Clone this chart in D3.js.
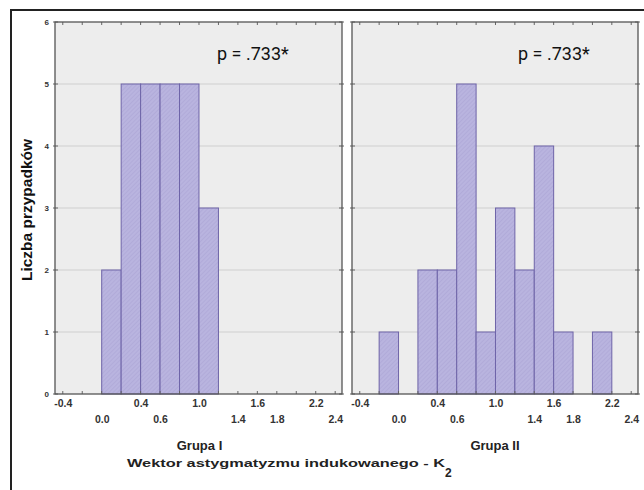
<!DOCTYPE html>
<html>
<head>
<meta charset="utf-8">
<script src="https://cdn.jsdelivr.net/npm/d3@7"></script>
<style>
  body { margin: 0; background: #fff; }
  svg { display: block; }
</style>
</head>
<body>
<script>
var width = 644, height = 490;

// histogram data, bins 0.2 wide (lower edges)
var binWidth = 0.2;
var binStartsI = [0.0, 0.2, 0.4, 0.6, 0.8, 1.0];
var countsI = [2, 5, 5, 5, 5, 3];
var binStartsII = [-0.2, 0.2, 0.4, 0.6, 0.8, 1.0, 1.2, 1.4, 1.6, 2.0];
var countsII = [1, 2, 2, 5, 1, 3, 2, 4, 1, 1];

var xTickLabels = [-0.4, 0.0, 0.4, 0.6, 1.0, 1.4, 1.6, 1.8, 2.2, 2.4];
var upperRow = [-0.4, 0.4, 1.0, 1.6, 2.2];
var minorTicks = [-0.4, -0.2, 0.0, 0.2, 0.4, 0.6, 0.8, 1.0, 1.2, 1.4, 1.6, 1.8, 2.0, 2.2, 2.4];
var yTicks = [0, 1, 2, 3, 4, 5, 6];
var groupNames = ["Grupa I", "Grupa II"];
var pLabels = ["p = .733*", "p = .733*"];

var panels = [
  {name: groupNames[0], p: pLabels[0], starts: binStartsI, counts: countsI, x0: 55, x1: 342},
  {name: groupNames[1], p: pLabels[1], starts: binStartsII, counts: countsII, x0: 352, x1: 638}
];

var svg = d3.select("body").append("svg")
  .attr("width", width)
  .attr("height", height);

var defs = svg.append("defs");
var pat = defs.append("pattern")
  .attr("id", "hatch")
  .attr("patternUnits", "userSpaceOnUse")
  .attr("width", 3).attr("height", 3)
  .attr("patternTransform", "rotate(45)");
pat.append("rect").attr("width", 3).attr("height", 3).attr("fill", "#b9b4df");
pat.append("line").attr("x1", 0).attr("y1", 0).attr("x2", 0).attr("y2", 3)
  .attr("stroke", "#a9a3d3").attr("stroke-width", 1);

// outer frame (left + top only)
svg.append("path")
  .attr("d", "M11,490 L11,10 L644,10")
  .attr("fill", "none").attr("stroke", "#222").attr("stroke-width", 2);

var y = d3.scaleLinear().domain([0, 6]).range([394, 22]);

panels.forEach((p, i) => {
  var x = d3.scaleLinear().domain([-0.48, 2.47]).range([p.x0, p.x1]);
  var g = svg.append("g");

  g.append("rect")
    .attr("x", p.x0).attr("y", y(6))
    .attr("width", p.x1 - p.x0).attr("height", y(0) - y(6))
    .attr("fill", "#ededed");

  g.selectAll(".grid")
    .data(yTicks.slice(1, 6))
    .enter().append("line")
    .attr("x1", p.x0).attr("x2", p.x1)
    .attr("y1", (d) => y(d)).attr("y2", (d) => y(d))
    .attr("stroke", "#cfcfcf").attr("stroke-width", 1);

  g.selectAll(".bar")
    .data(p.starts.map((s, j) => ({start: s, count: p.counts[j]})))
    .enter().append("rect")
    .attr("x", (d) => x(d.start))
    .attr("width", (d) => x(d.start + binWidth) - x(d.start))
    .attr("y", (d) => y(d.count))
    .attr("height", (d) => y(0) - y(d.count))
    .attr("fill", "url(#hatch)")
    .attr("stroke", "#6e64a8").attr("stroke-width", 1);

  // minor ticks on top and bottom edges
  g.selectAll(".tb")
    .data(minorTicks)
    .enter().append("path")
    .attr("d", (d) => "M" + x(d) + "," + y(0) + "v-3M" + x(d) + "," + y(6) + "v3")
    .attr("stroke", "#666").attr("stroke-width", 1);

  // y ticks on both sides
  g.selectAll(".ty")
    .data(yTicks)
    .enter().append("path")
    .attr("d", (d) => "M" + (p.x0 - 2) + "," + y(d) + "h5M" + (p.x1 - 3) + "," + y(d) + "h5")
    .attr("stroke", "#666").attr("stroke-width", 1);

  g.append("rect")
    .attr("x", p.x0).attr("y", y(6))
    .attr("width", p.x1 - p.x0).attr("height", y(0) - y(6))
    .attr("fill", "none").attr("stroke", "#555").attr("stroke-width", 1.3);

  var ax = g.append("g")
    .attr("transform", "translate(0," + y(0) + ")")
    .call(d3.axisBottom(x).tickValues(xTickLabels).tickSize(0)
      .tickFormat((d) => d.toFixed(1)));
  ax.select(".domain").remove();
  ax.selectAll("text")
    .attr("y", (d) => upperRow.indexOf(d) >= 0 ? 6 : 22)
    .attr("fill", "#333")
    .style("font-family", "'Liberation Sans', Arial, sans-serif")
    .style("font-weight", "bold")
    .style("font-size", "10.5px");

  g.append("text")
    .attr("x", (p.x0 + p.x1) / 2 + (i == 0 ? 1 : 0)).attr("y", 450)
    .attr("text-anchor", "middle")
    .attr("fill", "#222")
    .style("font-family", "'Liberation Sans', Arial, sans-serif")
    .style("font-weight", "bold")
    .style("font-size", "13px")
    .text(p.name);

  g.append("text")
    .attr("x", p.x0 + (i == 0 ? 162 : 166)).attr("y", 60)
    .attr("fill", "#111")
    .style("font-family", "Roboto, sans-serif")
    .style("font-size", "18px")
    .text(p.p);
});

// y axis labels on left panel
var ay = svg.append("g")
  .attr("transform", "translate(53,0)")
  .call(d3.axisLeft(y).tickValues(yTicks).tickSize(0).tickPadding(4)
    .tickFormat(d3.format("d")));
ay.select(".domain").remove();
ay.selectAll("text")
  .attr("fill", "#333")
  .style("font-family", "'Liberation Sans', Arial, sans-serif")
  .style("font-weight", "bold")
  .style("font-size", "8px");

svg.append("text")
  .attr("transform", "translate(32,210) rotate(-90)")
  .attr("text-anchor", "middle")
  .attr("fill", "#111")
  .style("font-family", "'Liberation Sans', Arial, sans-serif")
  .style("font-weight", "bold")
  .style("font-size", "15.5px")
  .text("Liczba przypadków");

var title = svg.append("text")
  .attr("x", 127).attr("y", 467)
  .attr("fill", "#222")
  .style("font-family", "'Liberation Sans', Arial, sans-serif")
  .style("font-weight", "bold")
  .style("font-size", "11px");
title.append("tspan")
  .attr("textLength", 318).attr("lengthAdjust", "spacingAndGlyphs")
  .text("Wektor astygmatyzmu indukowanego - K");
title.append("tspan").attr("dy", 10).style("font-size", "12px").text("2");
</script>
</body>
</html>
